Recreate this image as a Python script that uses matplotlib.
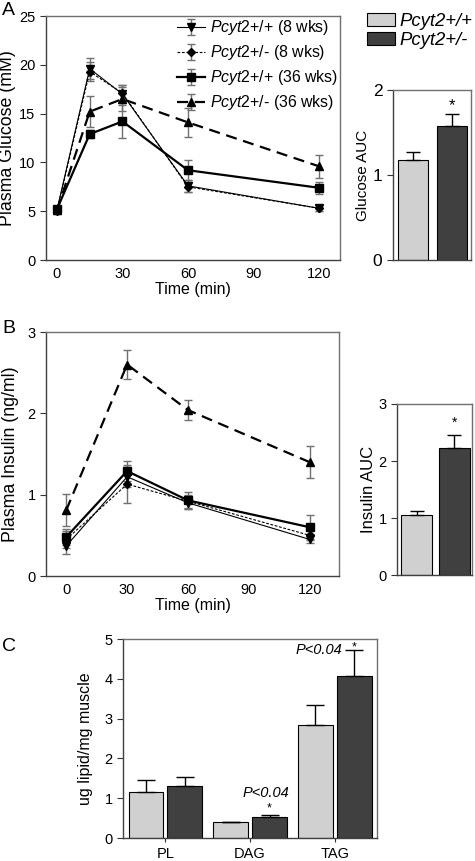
import numpy as np
import matplotlib.pyplot as plt
from matplotlib.patches import Patch

plt.rcParams['font.family'] = ['Liberation Sans', 'DejaVu Sans']
plt.rcParams['mathtext.fontset'] = 'custom'
plt.rcParams['mathtext.it'] = 'Liberation Sans:italic'
plt.rcParams['mathtext.rm'] = 'Liberation Sans'

# --- data ---
gtt_time = [0, 15, 30, 60, 120]
glu_wt8 = [5.1, 19.6, 17.0, 7.6, 5.3]
glu_wt8_err = [0.3, 1.1, 0.9, 0.6, 0.3]
glu_het8 = [5.0, 19.3, 17.1, 7.5, 5.3]
glu_het8_err = [0.3, 1.0, 0.8, 0.5, 0.3]
glu_wt36 = [5.2, 12.9, 14.2, 9.2, 7.4]
glu_wt36_err = [0.3, 0.4, 1.7, 1.0, 0.6]
glu_het36 = [5.1, 15.2, 16.5, 14.1, 9.6]
glu_het36_err = [0.3, 1.6, 1.2, 1.5, 1.2]

ins_time = [0, 30, 60, 120]
ins_wt8 = [0.37, 1.22, 0.90, 0.45]
ins_wt8_err = [0.1, 0.12, 0.08, 0.05]
ins_het8 = [0.45, 1.13, 0.92, 0.50]
ins_het8_err = [0.1, 0.23, 0.08, 0.06]
ins_wt36 = [0.48, 1.29, 0.93, 0.60]
ins_wt36_err = [0.1, 0.12, 0.1, 0.15]
ins_het36 = [0.81, 2.60, 2.04, 1.40]
ins_het36_err = [0.2, 0.18, 0.12, 0.2]

genotypes = ['Pcyt2+/+', 'Pcyt2+/-']
glu_auc = [1.18, 1.58]
glu_auc_err = [0.09, 0.14]
ins_auc = [1.05, 2.23]
ins_auc_err = [0.07, 0.22]

lipids = ['PL', 'DAG', 'TAG']
lipid_wt = [1.15, 0.39, 2.83]
lipid_wt_err = [0.31, 0.02, 0.51]
lipid_het = [1.30, 0.52, 4.07]
lipid_het_err = [0.23, 0.05, 0.65]

series_labels = ['$\\it{Pcyt2}$+/+ (8 wks)', '$\\it{Pcyt2}$+/- (8 wks)',
                 '$\\it{Pcyt2}$+/+ (36 wks)', '$\\it{Pcyt2}$+/- (36 wks)']

light = '#d0d0d0'
dark = '#404040'
spine_col = '#707070'

fig = plt.figure(figsize=(4.75, 8.61), dpi=100)


def style_frame(ax):
    for s in ax.spines.values():
        s.set_color(spine_col)
        s.set_linewidth(1.0)
    ax.spines['left'].set_color('#404040')
    ax.spines['bottom'].set_color('#404040')
    ax.tick_params(direction='out', length=4, width=0.8, color='#333333', labelsize=10.5)


def draw_lines(ax, t, sets):
    styles = [dict(marker='v', ls='-', lw=0.8), dict(marker='D', ls='--', lw=0.8, dashes=(2.5, 1.5)),
              dict(marker='s', ls='-', lw=1.6), dict(marker='^', ls='--', lw=1.6, dashes=(5, 3))]
    msizes = [6, 4, 6, 6]
    for (y, e), st, ms, lab in zip(sets, styles, msizes, series_labels):
        ax.errorbar(t, y, yerr=e, color='black', ecolor='#707070', elinewidth=1.0,
                    capsize=3, capthick=1.0, ms=ms, label=lab, **st)


# --- Panel A ---
axA = fig.add_axes([0.0968, 0.698, 0.619, 0.2834])
draw_lines(axA, gtt_time, [(glu_wt8, glu_wt8_err), (glu_het8, glu_het8_err),
                           (glu_wt36, glu_wt36_err), (glu_het36, glu_het36_err)])
axA.set_xlim(-5, 129.6)
axA.set_ylim(0, 25)
axA.set_xticks([0, 30, 60, 90, 120])
axA.set_yticks([0, 5, 10, 15, 20, 25])
axA.set_xlabel('Time (min)', fontsize=11.5, labelpad=1)
axA.set_ylabel('Plasma Glucose (mM)', fontsize=12.8, labelpad=2)
style_frame(axA)
axA.tick_params(axis='x', length=0, pad=5)
axA.legend(loc='upper right', frameon=False, fontsize=11.4, handlelength=1.75,
           borderaxespad=0.05, borderpad=0.1, labelspacing=0.38, handletextpad=0.3)

axAa = fig.add_axes([0.827, 0.698, 0.165, 0.1975])
axAa.bar([0, 1], glu_auc, width=0.77, color=[light, dark], edgecolor='black', lw=0.8)
axAa.errorbar([0, 1], glu_auc, yerr=[[0, 0], glu_auc_err], fmt='none', ecolor='black',
              elinewidth=1.0, capsize=5, capthick=1.0)
axAa.text(1, glu_auc[1] + glu_auc_err[1] + 0.01, '*', ha='center', va='bottom', fontsize=12)
axAa.set_xlim(-0.51, 1.49)
axAa.set_ylim(0, 2)
axAa.set_yticks([0, 1, 2])
axAa.set_xticks([])
axAa.set_ylabel('Glucose AUC', fontsize=11, labelpad=2)
style_frame(axAa)
axAa.tick_params(labelsize=12.5)

fig.legend(handles=[Patch(facecolor=light, edgecolor='black', lw=0.8),
                    Patch(facecolor=dark, edgecolor='black', lw=0.8)],
           labels=genotypes, loc='upper left', bbox_to_anchor=(367 / 475, 1 - 13 / 861),
           frameon=False, prop={'style': 'italic', 'size': 13.3},
           borderaxespad=0, borderpad=0,
           handlelength=1.5, handleheight=0.72, labelspacing=0.08, handletextpad=0.28)

# --- Panel B ---
axB = fig.add_axes([0.0968, 0.331, 0.617, 0.2834])
draw_lines(axB, ins_time, [(ins_wt8, ins_wt8_err), (ins_het8, ins_het8_err),
                           (ins_wt36, ins_wt36_err), (ins_het36, ins_het36_err)])
axB.set_xlim(-10, 134.5)
axB.set_ylim(0, 3)
axB.set_xticks([0, 30, 60, 90, 120])
axB.set_yticks([0, 1, 2, 3])
axB.set_xlabel('Time (min)', fontsize=11.5, labelpad=1)
axB.set_ylabel('Plasma Insulin (ng/ml)', fontsize=12.8, labelpad=6)
style_frame(axB)
axB.tick_params(axis='x', length=0, pad=5)

axBa = fig.add_axes([0.836, 0.332, 0.158, 0.1988])
axBa.bar([0, 1], ins_auc, width=0.82, color=[light, dark], edgecolor='black', lw=0.8)
axBa.errorbar([0, 1], ins_auc, yerr=[[0, 0], ins_auc_err], fmt='none', ecolor='black',
              elinewidth=1.0, capsize=5, capthick=1.0)
axBa.text(1, ins_auc[1] + ins_auc_err[1] + 0.1, '*', ha='center', va='bottom', fontsize=10)
axBa.set_xlim(-0.52, 1.48)
axBa.set_ylim(0, 3)
axBa.set_yticks([0, 1, 2, 3])
axBa.set_xticks([])
axBa.set_ylabel('Insulin AUC', fontsize=12, labelpad=2)
style_frame(axBa)

# --- Panel C ---
axC = fig.add_axes([0.259, 0.0267, 0.535, 0.2311])
x = np.arange(len(lipids))
off = 0.23
w = 0.41
axC.bar(x - off, lipid_wt, width=w, color=light, edgecolor='black', lw=0.8)
axC.bar(x + off, lipid_het, width=w, color=dark, edgecolor='black', lw=0.8)
axC.errorbar(x - off, lipid_wt, yerr=[np.zeros(3), lipid_wt_err], fmt='none', ecolor='black',
             elinewidth=1.0, capsize=6.5, capthick=1.0)
axC.errorbar(x + off, lipid_het, yerr=[np.zeros(3), lipid_het_err], fmt='none', ecolor='black',
             elinewidth=1.0, capsize=6.5, capthick=1.0)
dag_top = lipid_het[1] + lipid_het_err[1]
axC.text(1 + off, dag_top + 0.02, '*', ha='center', va='bottom', fontsize=9)
axC.text(1 + off - 0.04, dag_top + 0.38, 'P<0.04', ha='center', va='bottom', fontsize=10.5, style='italic')
tag_top = lipid_het[2] + lipid_het_err[2]
axC.text(2 + off, tag_top - 0.08, '*', ha='center', va='bottom', fontsize=9)
axC.text(2 + off - 0.14, tag_top, 'P<0.04', ha='right', va='center', fontsize=10.5, style='italic')
axC.set_xlim(-0.5, 2.5)
axC.set_ylim(0, 5)
axC.set_xticks(x)
axC.set_xticklabels(lipids)
axC.set_yticks([0, 1, 2, 3, 4, 5])
axC.set_ylabel('ug lipid/mg muscle', fontsize=11.5, labelpad=8)
style_frame(axC)
axC.tick_params(axis='x', length=3)

# panel letters
fig.text(0.004, 0.998, 'A', fontsize=14, va='top')
fig.text(0.004, 0.628, 'B', fontsize=14, va='top')
fig.text(0.004, 0.259, 'C', fontsize=14, va='top')

plt.savefig('out.png', dpi=100)
